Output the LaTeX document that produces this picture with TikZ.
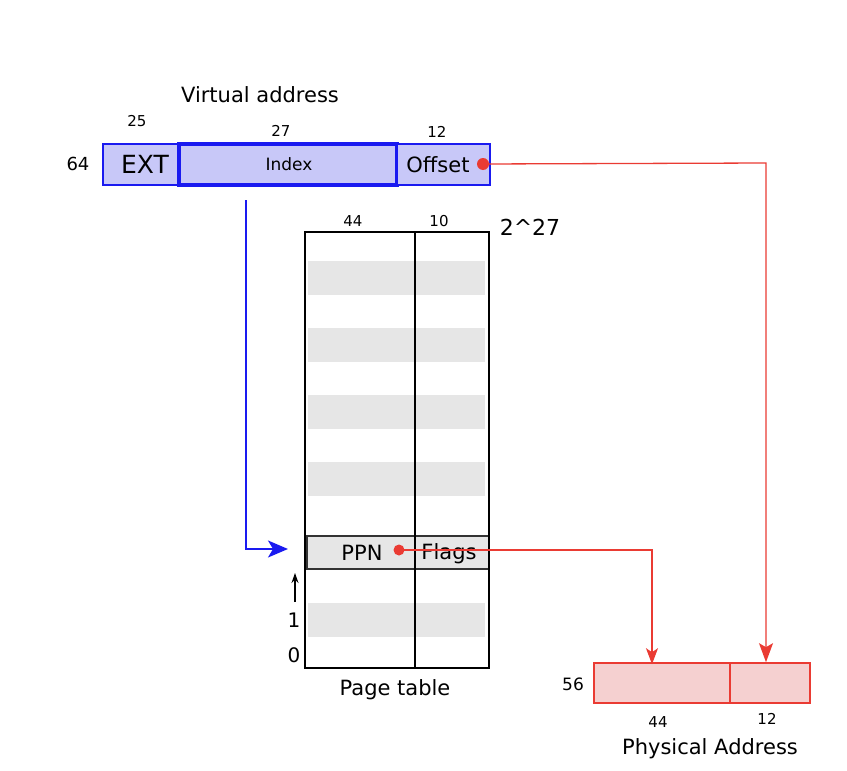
\documentclass[tikz,border=0pt]{standalone}
\usepackage{fontspec}
\setmainfont{DejaVu Sans}
\usetikzlibrary{arrows.meta}
\definecolor{vfill}{HTML}{C8C8F8}
\definecolor{vblue}{HTML}{1A1AF0}
\definecolor{pfill}{HTML}{F5D0D0}
\definecolor{pred}{HTML}{EA3B33}
\definecolor{rowgrey}{HTML}{E6E6E6}
\tikzset{
  fs/.style={font=\fontsize{#1}{#1}\selectfont, inner sep=0pt},
  vcell/.style={draw=vblue, fill=vfill, line width=1.5pt, inner sep=0pt},
  pcell/.style={draw=pred, fill=pfill, line width=1.6pt, inner sep=0pt},
  redline/.style={draw=pred, line width=1.3pt},
  reddot/.style={circle, fill=pred, inner sep=0pt, minimum size=12pt},
}
\begin{document}
\begin{tikzpicture}[x=1pt,y=-1pt]
\useasboundingbox (0,0) rectangle (847,771);
% virtual address
\node[fs=21] (vtitle) at (260,95) {Virtual address};
\node[vcell, minimum width=76pt, minimum height=41pt] (ext) at (141,164.5) {};
\node[fs=25] at (145,164.5) {EXT};
\node[vcell, line width=3.2pt, minimum width=218pt, minimum height=41pt] (idx) at (288,164.5) {};
\node[fs=17] at (289,164) {Index};
\node[vcell, minimum width=93pt, minimum height=41pt] (off) at (443.5,164.5) {};
\node[fs=21] at (438,164.5) {Offset};
\node[fs=18] (n64) at (78,164) {64};
\node[fs=15] (n25) at (137,121) {25};
\node[fs=15] (n27) at (281,131) {27};
\node[fs=15] (n12a) at (437,132) {12};
\node[reddot] (odot) at (483,164) {};
% page table
\foreach \y in {261,328,395,462,603} {
  \fill[rowgrey] (308,\y) rectangle (485,\y+34);
}
\node[draw=black!80, fill=rowgrey, line width=1.4pt, minimum width=182pt, minimum height=33pt, inner sep=0pt] (ppnrow) at (398,552.5) {};
\draw[line width=2.2pt] (305,232) rectangle (489,668);
\draw[line width=2.2pt] (415,232) -- (415,668);
\node[fs=21] (ppn) at (362,552.5) {PPN};
\node[fs=21] (flags) at (449,553.5) {Flags};
\node[reddot, minimum size=11pt] (pdot) at (399,550) {};
\node[fs=15] (n44a) at (353,221) {44};
\node[fs=15] (n10) at (439,221) {10};
\node[fs=22] (n227) at (530,227) {2\^{}27};
\node[fs=20] (one) at (294,620) {1};
\node[fs=20] (zero) at (294,655) {0};
\coordinate (upA) at (295,602);
\coordinate (upB) at (295,573);
\draw[-{Stealth[length=10pt,width=7pt]}, line width=1.3pt] (upA) -- (upB);
\node[fs=21] (pttitle) at (395,690) {Page table};
% physical address
\node[pcell, minimum width=136pt, minimum height=40pt] (pleft) at (662,683) {};
\node[pcell, minimum width=80pt, minimum height=40pt] (pright) at (770,683) {};
\node[fs=17] (n56) at (573,684) {56};
\node[fs=15] (n44b) at (658,722) {44};
\node[fs=15] (n12b) at (767,719) {12};
\node[fs=21] (patitle) at (710,749) {Physical Address};
% connectors
\coordinate (bstart) at (246,200);
\coordinate (bend) at (288,549);
\draw[vblue, line width=1.6pt, -{Stealth[length=20pt,width=17pt,inset=5pt]}] (bstart) |- (bend);
\coordinate (rcorner1) at (766,163);
\draw[redline, -{Stealth[length=19pt,width=14pt,inset=4pt]}] (odot.center) -- (rcorner1) -- (pright.north -| rcorner1);
\coordinate (rcorner2) at (652,550);
\draw[redline, -{Stealth[length=16pt,width=12pt,inset=4pt]}] (pdot.center) -- (rcorner2) -- ([yshift=-2pt]pleft.north -| rcorner2);
\end{tikzpicture}
\end{document}
